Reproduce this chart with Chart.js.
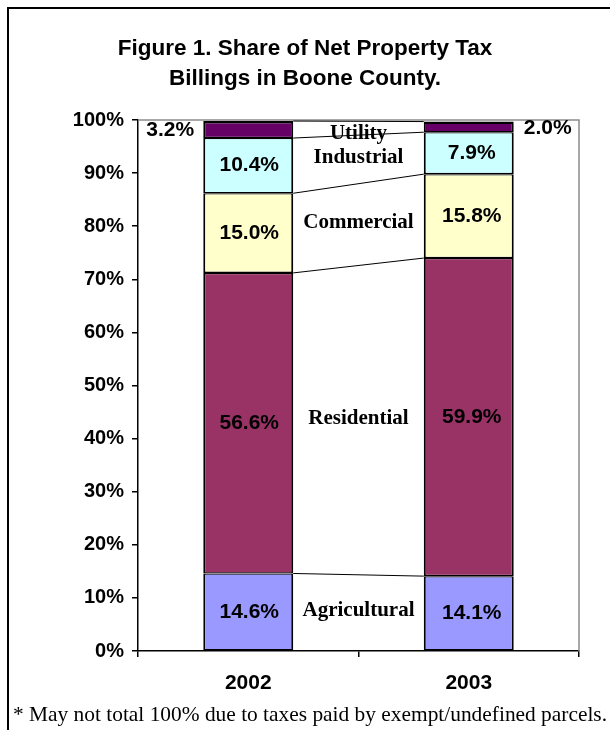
<!DOCTYPE html>
<html>
<head>
<meta charset="utf-8">
<script src="https://cdn.jsdelivr.net/npm/chart.js@4.4.0/dist/chart.umd.min.js"></script>
<style>
  html, body { margin: 0; padding: 0; background: #fff; }
  body { width: 610px; height: 730px; position: relative; overflow: hidden; }
  #frame { position: absolute; left: 7px; top: 7px; width: 610px; height: 740px; border: 2px solid #000; box-sizing: border-box; }
  #wrap { position: absolute; left: 0; top: 0; width: 610px; height: 730px; }
  #note { position: absolute; left: 13px; top: 702px; font-family: "Liberation Serif", "Times New Roman", serif; font-size: 21.4px; color: #000; white-space: nowrap; }
</style>
</head>
<body>
<div id="frame"></div>
<div id="wrap"><canvas id="c" width="610" height="730"></canvas></div>
<div id="note">* May not total 100% due to taxes paid by exempt/undefined parcels.</div>
<script>
const years = ['2002', '2003'];
const seriesNames = ['Agricultural', 'Residential', 'Commercial', 'Industrial', 'Utility'];
const agricultural = [14.6, 14.1];
const residential = [56.6, 59.9];
const commercial = [15.0, 15.8];
const industrial = [10.4, 7.9];
const utility = [3.2, 2.0];
const seriesColors = ['#9999FF', '#993366', '#FFFFCC', '#CCFFFF', '#660066'];
const titleLines = ['Figure 1. Share of Net Property Tax', 'Billings in Boone County.'];

const seriesValues = [agricultural, residential, commercial, industrial, utility];

const SANS = '"Liberation Sans", Arial, sans-serif';
const SERIF = '"Liberation Serif", "Times New Roman", serif';

const plotBorder = {
  id: 'plotBorder',
  beforeDatasetsDraw(chart) {
    const { ctx, chartArea: a } = chart;
    ctx.save();
    ctx.strokeStyle = '#8c8c8c';
    ctx.lineWidth = 1.5;
    ctx.beginPath();
    ctx.moveTo(a.left, a.top);
    ctx.lineTo(a.right, a.top);
    ctx.lineTo(a.right, a.bottom);
    ctx.stroke();
    ctx.restore();
  }
};

const annotations = {
  id: 'annotations',
  afterDatasetsDraw(chart) {
    const { ctx, chartArea: a } = chart;
    const metas = chart.data.datasets.map((d, i) => chart.getDatasetMeta(i));
    ctx.save();
    // value labels
    ctx.font = 'bold 21px ' + SANS;
    ctx.fillStyle = '#000';
    ctx.textAlign = 'center';
    ctx.textBaseline = 'middle';
    metas.forEach((meta, di) => {
      meta.data.forEach((bar, j) => {
        const v = chart.data.datasets[di].data[j];
        const p = bar.getProps(['x', 'y', 'base', 'width'], true);
        let lx = p.x + (j === 1 ? 3 : 1), ly = (p.y + p.base) / 2;
        if (di === seriesNames.length - 1) {
          lx = j === 0 ? p.x - p.width / 2 - 33 : p.x + p.width / 2 + 34;
          ly += 1;
        }
        ctx.fillText(v.toFixed(1) + '%', lx, ly);
      });
    });
    // series names between the bars
    ctx.font = 'bold 21px ' + SERIF;
    metas.forEach((meta, di) => {
      const b0 = meta.data[0].getProps(['x', 'y', 'base', 'width'], true);
      const b1 = meta.data[1].getProps(['x', 'y', 'base', 'width'], true);
      const x = ((b0.x + b0.width / 2) + (b1.x - b1.width / 2)) / 2;
      let y = ((b0.y + b0.base) / 2 + (b1.y + b1.base) / 2) / 2 - 2;
      y = Math.max(y, a.top + 14);
      ctx.fillText(seriesNames[di], x, y);
    });
    // series lines
    ctx.strokeStyle = '#000';
    ctx.lineWidth = 1;
    metas.forEach((meta) => {
      const b0 = meta.data[0].getProps(['x', 'y', 'width'], true);
      const b1 = meta.data[1].getProps(['x', 'y', 'width'], true);
      ctx.beginPath();
      ctx.moveTo(b0.x + b0.width / 2, b0.y);
      ctx.lineTo(b1.x - b1.width / 2, b1.y);
      ctx.stroke();
    });
    ctx.restore();
  }
};

new Chart(document.getElementById('c'), {
  type: 'bar',
  data: {
    labels: years,
    datasets: seriesNames.map((name, i) => ({
      label: name,
      data: seriesValues[i],
      backgroundColor: seriesColors[i],
      borderColor: '#000',
      borderWidth: i === seriesNames.length - 1
        ? { top: 2.5, bottom: 1.3, left: 2, right: 2 }
        : { top: 1.3, bottom: 1.3, left: 2, right: 2 },
      borderSkipped: false,
      categoryPercentage: 1.0,
      barPercentage: 0.408
    }))
  },
  options: {
    responsive: false,
    animation: false,
    devicePixelRatio: 1,
    layout: { padding: { top: 0, left: 0, right: 0, bottom: 0 } },
    plugins: {
      legend: { display: false },
      tooltip: { enabled: false },
      title: {
        display: true,
        text: titleLines,
        color: '#000',
        font: { family: SANS, size: 22.5, weight: 'bold', lineHeight: 1.333 },
        padding: { top: 34, bottom: 26 }
      }
    },
    scales: {
      x: {
        stacked: true,
        offset: true,
        grid: { drawOnChartArea: false, drawTicks: true, tickLength: 6, color: '#000', lineWidth: 1.5, offset: true },
        border: { color: '#000', width: 1.5 },
        ticks: { color: '#000', font: { family: SANS, size: 21, weight: 'bold' }, padding: 14, maxRotation: 0 },
        afterFit(scale) { scale.height = 79; }
      },
      y: {
        stacked: true,
        min: 0,
        max: 100,
        grid: { drawOnChartArea: false, drawTicks: true, tickLength: 6, color: '#000', lineWidth: 1.5 },
        border: { color: '#000', width: 1.5 },
        ticks: {
          stepSize: 10,
          color: '#000',
          padding: 8,
          font: { family: SANS, size: 20, weight: 'bold' },
          callback: (v) => v + '%'
        },
        afterFit(scale) { scale.width = 138; }
      },
      yRight: {
        position: 'right',
        display: true,
        min: 0,
        max: 100,
        grid: { display: false, drawTicks: false },
        border: { display: false },
        ticks: { display: false },
        afterFit(scale) { scale.width = 31; }
      }
    }
  },
  plugins: [plotBorder, annotations]
});
</script>
</body>
</html>
